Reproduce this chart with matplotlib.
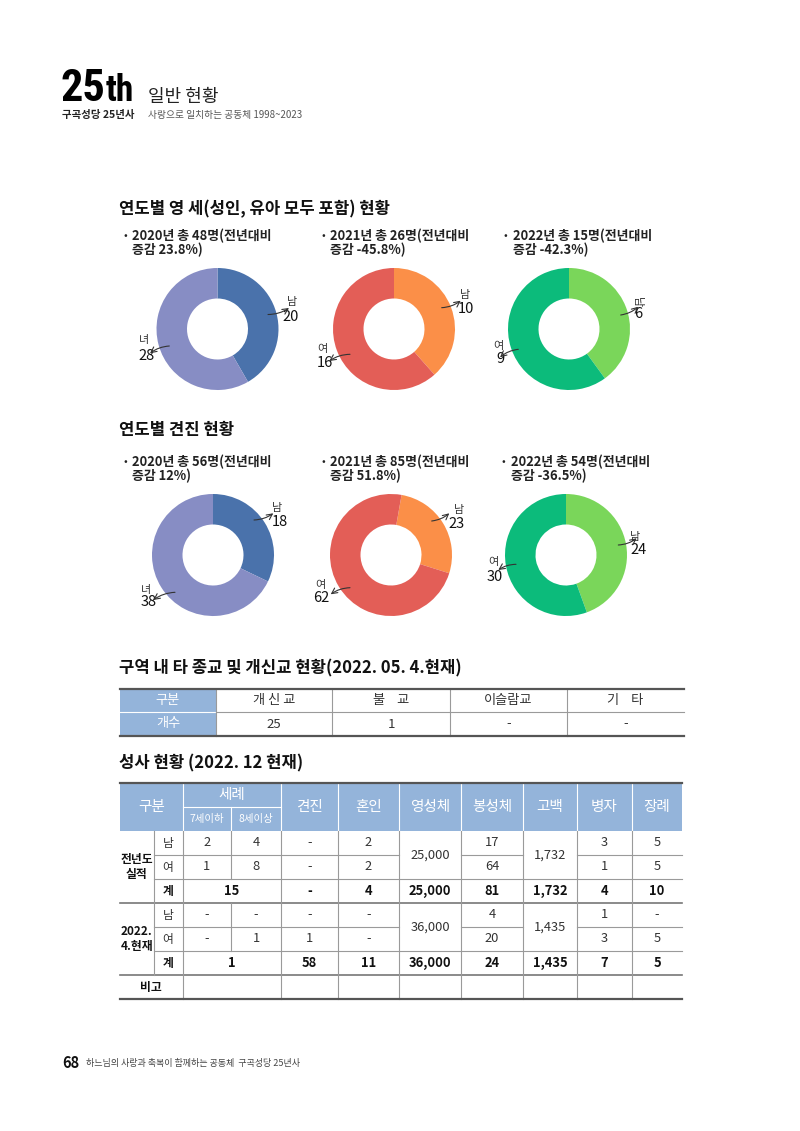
import matplotlib
matplotlib.use('Agg')
import matplotlib.pyplot as plt
from matplotlib.patches import Rectangle
from matplotlib import font_manager as fm

plt.rcParams['font.family'] = ['Noto Sans CJK KR', 'DejaVu Sans']

# ---------------- data ----------------
years = ['2020', '2021', '2022']
bap_total = [48, 26, 15]
bap_change = ['23.8%', '-45.8%', '-42.3%']
bap_male = [20, 10, 6]
bap_female = [28, 16, 9]
bap_female_word = ['녀', '여', '여']

conf_total = [56, 85, 54]
conf_change = ['12%', '51.8%', '-36.5%']
conf_male = [18, 23, 24]
conf_female = [38, 62, 30]
conf_female_word = ['녀', '여', '여']

rel_header = ['구분', '개 신 교', '불    교', '이슬람교', '기    타']
rel_row = ['개수', '25', '1', '-', '-']

sac_cols = ['견진', '혼인', '영성체', '봉성체', '고백', '병자', '장례']
sub_cols = ['7세이하', '8세이상']
group_labels = ['전년도\n실적', '2022.\n4.현재']
row_labels = ['남', '여', '계']
# columns: 7세이하, 8세이상, 견진, 혼인, 영성체, 봉성체, 고백, 병자, 장례
prev_male = ['2', '4', '-', '2', '25,000', '17', '1,732', '3', '5']
prev_female = ['1', '8', '-', '2', '25,000', '64', '1,732', '1', '5']
prev_total = ['15', '-', '4', '25,000', '81', '1,732', '4', '10']
cur_male = ['-', '-', '-', '-', '36,000', '4', '1,435', '1', '-']
cur_female = ['-', '1', '1', '-', '36,000', '20', '1,435', '3', '5']
cur_total = ['1', '58', '11', '36,000', '24', '1,435', '7', '5']

# ---------------- layout ----------------
W, H = 800, 1131
fig = plt.figure(figsize=(8, 11.31), dpi=100)
fig.patch.set_facecolor('white')

palettes = [('#4a72ab', '#878dc4'), ('#fb8f48', '#e35e57'), ('#7ad65a', '#0cbb7b')]
R = 61
row1_centers = [(217.5, 329), (394, 329), (569, 329)]
row2_centers = [(213, 555), (391, 555), (566, 555)]
row1_start = [90, 90, 90]
row2_start = [90, 80, 90]


def add_donut(cx, cy, vals, colors, start):
    a = fig.add_axes([(cx - R) / W, 1 - (cy + R) / H, 2 * R / W, 2 * R / H])
    a.pie(vals, colors=colors, startangle=start, counterclock=False,
          wedgeprops=dict(width=0.5, linewidth=0))
    a.set_xlim(-1, 1)
    a.set_ylim(-1, 1)
    a.axis('off')


for i in range(3):
    add_donut(*row1_centers[i], [bap_male[i], bap_female[i]], palettes[i], row1_start[i])
    add_donut(*row2_centers[i], [conf_male[i], conf_female[i]], palettes[i], row2_start[i])

ov = fig.add_axes([0, 0, 1, 1])
ov.set_xlim(0, W)
ov.set_ylim(H, 0)
ov.axis('off')
ov.set_zorder(10)

DARK = '#222222'
BLUE = '#94b4da'

# ---------------- header ----------------
narrow = None
for pref in ['LiberationSansNarrow-Bold', 'RobotoCondensed-Black', 'RobotoCondensed-Bold',
             'DejaVuSansCondensed-Bold']:
    for f in fm.fontManager.ttflist:
        if pref in f.fname:
            narrow = f.fname
            break
    if narrow:
        break
if narrow:
    fp25 = fm.FontProperties(fname=narrow)
else:
    fp25 = fm.FontProperties(family='DejaVu Sans', weight='bold')

t25 = ov.text(60, 101, '25', fontproperties=fp25, fontsize=38, color='black', va='baseline', ha='left')
fig.canvas.draw()
rend = fig.canvas.get_renderer()
w25 = t25.get_window_extent(rend).width
s = 45.0 / w25
t25.set_fontsize(38 * s)
fig.canvas.draw()
x_th = 60 + t25.get_window_extent(rend).width + 1
tth = ov.text(x_th, 101, 'th', fontproperties=fp25, fontsize=38 * s * 0.8, color='black',
              va='baseline', ha='left')

ov.text(148, 97, '일반 현황', fontsize=13, color=DARK, va='center', ha='left')
ov.text(62, 115, '구곡성당 25년사', fontsize=7.5, weight='bold', color=DARK, va='center', ha='left')
ov.text(148, 115, '사랑으로 일치하는 공동체 1998~2023', fontsize=7, color='#555555', va='center', ha='left')


# ---------------- section titles ----------------
def section(y, txt):
    ov.text(119, y, txt, fontsize=12, weight='bold', color='#111111', va='center', ha='left')


section(209, '연도별 영 세(성인, 유아 모두 포함) 현황')
section(430, '연도별 견진 현황')
section(668, '구역 내 타 종교 및 개신교 현황(2022. 05. 4.현재)')
section(763, '성사 현황 (2022. 12 현재)')

# ---------------- bullets ----------------
bx_row1 = [123, 321, 504]
bx_row2 = [123, 321, 502]
for i in range(3):
    for bx, y0, tot, chg in [(bx_row1[i], 236, bap_total[i], bap_change[i]),
                             (bx_row2[i], 462, conf_total[i], conf_change[i])]:
        ov.text(bx, y0, '•', fontsize=8, color=DARK, va='center', ha='left')
        ov.text(bx + 9, y0, f'{years[i]}년 총 {tot}명(전년대비', fontsize=9.3,
                weight='bold', color=DARK, va='center', ha='left')
        ov.text(bx + 9, y0 + 13.5, f'증감 {chg})', fontsize=9.3,
                weight='bold', color=DARK, va='center', ha='left')

# ---------------- donut labels ----------------
# (word xy, number xy, arrow start, arrow end, word rotation) per label
lab_row1 = [
    [((291.7, 301.7), (291, 316.7), (268, 314.5), (289, 308), 0),
     ((144, 340), (146.7, 356), (169.3, 346), (150, 353.3), 0)],
    [((465, 295), (465.7, 309.3), (441.7, 307.7), (460.7, 300.7), 0),
     ((322.7, 349.3), (325, 363.3), (350, 354.3), (329.3, 361), 0)],
    [((637, 301.7), (638.3, 314), (620.7, 315), (638.3, 306.7), 270),
     ((498.3, 346), (500, 359.3), (518.3, 349.3), (500, 357.3), 0)],
]
lab_row2 = [
    [((276.7, 508.3), (280, 521.7), (254, 520), (273.3, 513.3), 0),
     ((146, 590), (148.3, 602.3), (175, 592.3), (153.3, 600), 0)],
    [((459.3, 510), (456.7, 524.3), (431.7, 521), (449.3, 513.3), 0),
     ((320, 585), (321.7, 598.3), (350, 587.7), (330.7, 594.3), 0)],
    [((635, 536.7), (638.3, 550), (618.3, 545), (636.7, 538.3), 0),
     ((493.3, 561.7), (495, 576.7), (516, 564.3), (498.3, 570), 0)],
]


def donut_labels(layout, male, female, fwords):
    for i in range(3):
        for j, (word, num) in enumerate([('남', male[i]), (fwords[i], female[i])]):
            wxy, nxy, a0, a1, rot = layout[i][j]
            ov.text(*wxy, word, fontsize=8, color='#333333', ha='center', va='center', rotation=rot)
            ov.text(*nxy, str(num), fontsize=10.5, color='#111111', ha='center', va='center')
            ov.annotate('', xy=a1, xytext=a0,
                        arrowprops=dict(arrowstyle='->', lw=0.8, color='#333333',
                                        connectionstyle='arc3,rad=0.15', shrinkA=0, shrinkB=0))


donut_labels(lab_row1, bap_male, bap_female, bap_female_word)
donut_labels(lab_row2, conf_male, conf_female, conf_female_word)

# ---------------- table 1 ----------------
tx = [120, 216, 332, 450, 567, 684]
ty = [689, 712, 736]
ov.add_patch(Rectangle((tx[0], ty[0]), tx[1] - tx[0], ty[2] - ty[0], facecolor=BLUE, edgecolor='none'))
ov.plot([tx[0], tx[1]], [ty[1], ty[1]], color='white', lw=0.8)
ov.plot([tx[1], tx[-1]], [ty[1], ty[1]], color='#9a9a9a', lw=0.8)
for x in tx[1:-1]:
    ov.plot([x, x], [ty[0], ty[2]], color='#9a9a9a', lw=0.8)
ov.plot([tx[0], tx[-1]], [ty[0], ty[0]], color='#555555', lw=1.6)
ov.plot([tx[0], tx[-1]], [ty[2], ty[2]], color='#555555', lw=1.6)
for k in range(5):
    cx = (tx[k] + tx[k + 1]) / 2
    col = 'white' if k == 0 else '#333333'
    ov.text(cx, (ty[0] + ty[1]) / 2, rel_header[k], fontsize=9.5, color=col, ha='center', va='center')
    ov.text(cx, (ty[1] + ty[2]) / 2, rel_row[k], fontsize=9.5, color=col, ha='center', va='center')

# ---------------- table 2 ----------------
X = [120, 153.5, 182.5, 231, 281, 338, 399, 461, 523, 577, 632, 682]
Y0, YH = 783, 831
RH = 24
ry = [YH + RH * i for i in range(8)]
GRAY = '#9a9a9a'
FS = 9.3

ov.add_patch(Rectangle((X[0], Y0), X[-1] - X[0], YH - Y0, facecolor=BLUE, edgecolor='none'))
for x in X[2:-1]:
    if x == 231:
        ov.plot([x, x], [807, YH], color='white', lw=0.8)
    else:
        ov.plot([x, x], [Y0, YH], color='white', lw=0.8)
ov.plot([X[2], X[4]], [807, 807], color='white', lw=0.8)
ov.plot([X[0], X[-1]], [Y0, Y0], color='#555555', lw=1.6)

ov.text((X[0] + X[2]) / 2, (Y0 + YH) / 2, '구분', fontsize=10.5, color='white', ha='center', va='center')
ov.text((X[2] + X[4]) / 2, (Y0 + 807) / 2, '세례', fontsize=10.5, color='white', ha='center', va='center')
for k, lab in enumerate(sub_cols):
    ov.text((X[2 + k] + X[3 + k]) / 2, (807 + YH) / 2, lab, fontsize=7.5, color='white', ha='center', va='center')
for k, lab in enumerate(sac_cols):
    ov.text((X[4 + k] + X[5 + k]) / 2, (Y0 + YH) / 2, lab, fontsize=10.5, color='white', ha='center', va='center')

centers = [(X[k] + X[k + 1]) / 2 for k in range(2, 11)]
merged_cols = [4, 6]  # 영성체, 고백 (index into 9 data columns)

groups = [(prev_male, prev_female, prev_total), (cur_male, cur_female, cur_total)]
for g, (m, f, t) in enumerate(groups):
    top = ry[3 * g]
    ov.text((X[0] + X[1]) / 2, top + 1.5 * RH, group_labels[g], fontsize=8.5, weight='bold',
            color='#111111', ha='center', va='center', linespacing=1.2)
    for r, lab in enumerate(row_labels):
        ov.text((X[1] + X[2]) / 2, top + RH * (r + 0.5), lab, fontsize=8.5,
                weight='bold' if r == 2 else 'normal', color='#333333' if r < 2 else '#111111',
                ha='center', va='center')
    for c in range(9):
        if c in merged_cols:
            ov.text(centers[c], top + RH, m[c], fontsize=FS, color='#333333', ha='center', va='center')
        else:
            ov.text(centers[c], top + RH * 0.5, m[c], fontsize=FS, color='#333333', ha='center', va='center')
            ov.text(centers[c], top + RH * 1.5, f[c], fontsize=FS, color='#333333', ha='center', va='center')
    ov.text((X[2] + X[4]) / 2, top + RH * 2.5, t[0], fontsize=FS, weight='bold', color='#111111',
            ha='center', va='center')
    for c in range(1, 8):
        ov.text(centers[c + 1], top + RH * 2.5, t[c], fontsize=FS, weight='bold', color='#111111',
                ha='center', va='center')
    y1 = top + RH
    for xa, xb in [(X[1], X[6]), (X[7], X[8]), (X[9], X[11])]:
        ov.plot([xa, xb], [y1, y1], color=GRAY, lw=0.8)
    ov.plot([X[1], X[-1]], [top + 2 * RH, top + 2 * RH], color=GRAY, lw=0.8)
    ov.plot([X[0], X[-1]], [top + 3 * RH, top + 3 * RH], color='#777777', lw=1.2)
    ov.plot([X[3], X[3]], [top, top + 2 * RH], color=GRAY, lw=0.8)

ov.text((X[0] + X[2]) / 2, ry[6] + RH / 2, '비고', fontsize=8.5, weight='bold', color='#111111',
        ha='center', va='center')

ov.plot([X[1], X[1]], [ry[0], ry[6]], color=GRAY, lw=0.8)
for x in X[2:3] + X[4:-1]:
    ov.plot([x, x], [ry[0], ry[7]], color=GRAY, lw=0.8)
ov.plot([X[0], X[-1]], [ry[7], ry[7]], color='#555555', lw=1.6)

# ---------------- footer ----------------
ov.text(62, 1063, '68', fontsize=10.5, weight='bold', color='#111111', ha='left', va='center')
ov.text(86, 1063, '하느님의 사랑과 축복이 함께하는 공동체  구곡성당 25년사', fontsize=6.5,
        color='#444444', ha='left', va='center')

fig.savefig('out.png', dpi=100, facecolor='white')
